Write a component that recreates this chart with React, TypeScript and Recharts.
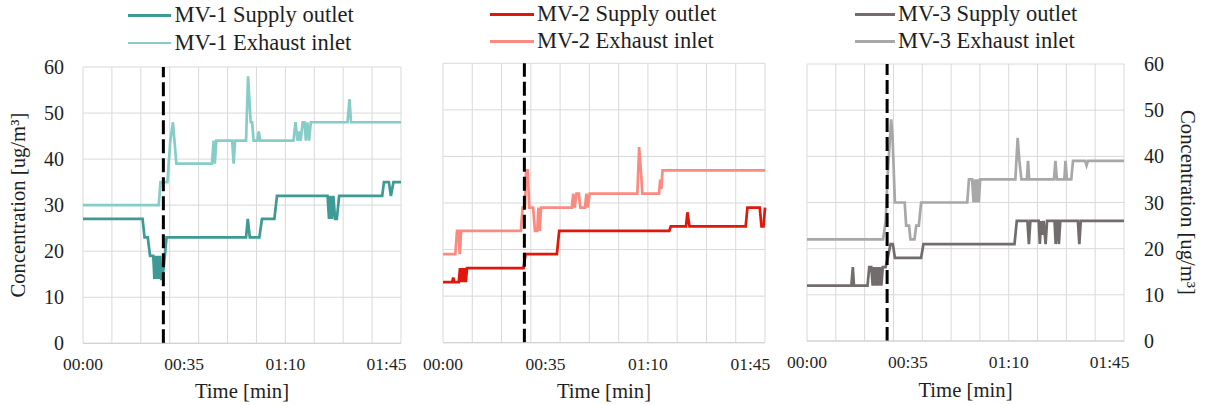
import { LineChart, Line, XAxis, YAxis, CartesianGrid, ReferenceLine } from "recharts";

type Pt = [number, number];

// [minutes since start, concentration ug/m3]
const mv1Supply: Pt[] = [
  [0, 27], [20.6, 27], [21.3, 23], [22.4, 23], [23.2, 19], [24.3, 19], [24.7, 14], [25.1, 19],
  [25.5, 14], [25.9, 19], [26.3, 14], [26.7, 19], [27.1, 14], [27.5, 14], [28.3, 19], [28.9, 23],
  [56.4, 23], [57.0, 27], [57.7, 23], [61.0, 23], [61.9, 27], [66.2, 27], [67.1, 32], [84.6, 32],
  [85.1, 27], [85.6, 32], [86.1, 27], [86.6, 32], [87.2, 27], [87.8, 27], [88.6, 32], [103.5, 32],
  [104.1, 35], [105.8, 35], [106.5, 32], [107.4, 35], [110, 35],
];
const mv1Exhaust: Pt[] = [
  [0, 30], [26.2, 30], [26.8, 35], [29.2, 35], [30.2, 44], [31.1, 48], [32.3, 39], [44.6, 39],
  [45.2, 44], [45.6, 39], [46.1, 44], [51.6, 44], [52.1, 39], [52.6, 44], [56.4, 44], [57.1, 58],
  [58.0, 48], [58.5, 48], [59.0, 44], [60.3, 44], [60.8, 46], [61.3, 44], [72.8, 44], [73.5, 48],
  [74.2, 44], [74.8, 46], [75.3, 44], [76.0, 48], [76.6, 48], [77.1, 44], [77.6, 48], [78.2, 44],
  [78.8, 48], [91.5, 48], [92.2, 53], [92.7, 48], [110, 48],
];
const mv2Supply: Pt[] = [
  [0, 13], [3.1, 13], [3.5, 14], [3.9, 13], [5.4, 13], [5.8, 16], [6.2, 13], [6.6, 16], [7.0, 13],
  [7.4, 16], [7.8, 13], [8.2, 16], [27.5, 16], [28.2, 19], [38.9, 19], [39.7, 24], [77.3, 24],
  [77.8, 25], [83.0, 25], [83.5, 28], [84.2, 25], [103.4, 25], [104.0, 29], [108.2, 29],
  [108.8, 25], [109.5, 25], [110, 29],
];
const mv2Exhaust: Pt[] = [
  [0, 19], [4.2, 19], [4.8, 24], [5.3, 24], [5.7, 19], [6.2, 24], [26.6, 24], [27.2, 29], [28.0, 29],
  [28.4, 37], [28.9, 37], [29.5, 29], [30.8, 29], [31.4, 24], [32.2, 24], [32.6, 29], [33.0, 24],
  [33.5, 29], [44.0, 29], [44.5, 32], [45.0, 29], [45.6, 32], [46.4, 32], [46.9, 29], [48.5, 29],
  [49.0, 32], [49.5, 29], [50.1, 32], [66.4, 32], [67.0, 42], [67.6, 37], [68.1, 32], [73.8, 32],
  [74.2, 35], [74.6, 33], [75.0, 37], [110, 37],
];
const mv3Supply: Pt[] = [
  [0, 12], [15.4, 12], [15.9, 16], [16.3, 12], [21.0, 12], [21.6, 16], [22.3, 16], [22.8, 12],
  [23.3, 16], [23.8, 12], [24.3, 16], [24.8, 12], [25.3, 16], [25.8, 12], [26.3, 16], [27.3, 16],
  [28.0, 18], [29.0, 21], [29.8, 21], [30.5, 18], [39.6, 18], [40.4, 21], [72.0, 21], [72.8, 26],
  [76.5, 26], [77.0, 21], [77.5, 26], [80.4, 26], [80.8, 21], [81.2, 26], [81.7, 23], [82.1, 26],
  [82.8, 21], [83.3, 26], [85.9, 26], [86.3, 21], [86.8, 26], [87.0, 26], [87.4, 21], [87.9, 26],
  [94.0, 26], [94.5, 21], [95.0, 26], [110, 26],
];
const mv3Exhaust: Pt[] = [
  [0, 22], [26.4, 22], [27.3, 26], [28.0, 36], [29.2, 48], [29.7, 44], [30.5, 30], [33.9, 30],
  [34.4, 25], [35.4, 25], [35.9, 22], [37.3, 22], [37.9, 25], [38.8, 25], [39.6, 30], [55.6, 30],
  [56.2, 35], [57.3, 35], [57.8, 30], [58.3, 35], [58.7, 30], [59.2, 35], [59.6, 30], [60.1, 35],
  [72.3, 35], [73.1, 44], [73.7, 39], [74.4, 35], [76.3, 35], [76.7, 39], [77.1, 35], [85.7, 35],
  [86.2, 39], [86.7, 35], [89.3, 35], [89.7, 39], [90.2, 35], [91.7, 35], [92.3, 39], [96.5, 39],
  [97.0, 38], [97.5, 39], [110, 39],
];

const gridTimes = [0, 10, 20, 30, 40, 50, 60, 70, 80, 90, 100, 110];
const timeTicks = [0, 35, 70, 105];
const concTicks = [0, 10, 20, 30, 40, 50, 60];
const switchTime = 27.8;

const SERIF = "'Liberation Serif'";
const INK = "#1e1e1e";
const GRID = "#d9d9d9";

const pad2 = (n: number) => String(n).padStart(2, "0");
const fmtTime = (m: number) => `${pad2(Math.floor(m / 60))}:${pad2(m % 60)}`;
const toRows = (pts: Pt[]) => pts.map(([t, v]) => ({ t, v }));

const yTitle = "Concentration [ug/m\u00b3]";

interface PanelProps {
  left: number;
  width: number;
  top: number;
  bottom: number;
  margin: { left: number; right: number };
  yAxis: "left" | "right" | "none";
  supply: Pt[];
  exhaust: Pt[];
  supplyColor: string;
  exhaustColor: string;
  titleOffset: number;
}

function Panel(p: PanelProps) {
  return (
    <div style={{ position: "absolute", left: p.left, top: 0 }}>
      <LineChart
        width={p.width}
        height={405}
        margin={{ top: p.top, right: p.margin.right, left: p.margin.left, bottom: 0 }}
      >
        <CartesianGrid stroke={GRID} strokeWidth={1} verticalValues={gridTimes} />
        <XAxis
          type="number"
          dataKey="t"
          domain={[0, 110]}
          ticks={timeTicks}
          interval={0}
          tickFormatter={fmtTime}
          height={405 - p.bottom}
          tickLine={false}
          tickSize={0}
          tickMargin={14.6}
          axisLine={{ stroke: "#cfcfcf" }}
          tick={{ fontSize: 17.5, fill: INK, fontFamily: SERIF }}
          label={{
            value: "Time [min]",
            position: "insideBottom",
            offset: p.titleOffset,
            fontSize: 20.7,
            fill: INK,
            fontFamily: SERIF,
          }}
        />
        {p.yAxis === "none" ? (
          <YAxis hide domain={[0, 60]} ticks={concTicks} />
        ) : (
          <YAxis
            orientation={p.yAxis}
            domain={[0, 60]}
            ticks={concTicks}
            interval={0}
            width={p.yAxis === "left" ? 83 : 81}
            axisLine={false}
            tickLine={false}
            tickSize={0}
            tickMargin={p.yAxis === "left" ? 19 : 20}
            tick={{ fontSize: 20, fill: INK, fontFamily: SERIF }}
            label={{
              value: yTitle,
              angle: p.yAxis === "left" ? -90 : 90,
              position: p.yAxis === "left" ? "insideLeft" : "insideRight",
              offset: p.yAxis === "left" ? 17.7 : 16.7,
              fontSize: 20.7,
              fill: INK,
              fontFamily: SERIF,
              style: { textAnchor: "middle" },
            }}
          />
        )}
        <Line
          data={toRows(p.exhaust)}
          dataKey="v"
          type="linear"
          stroke={p.exhaustColor}
          strokeWidth={2.7}
          dot={false}
          isAnimationActive={false}
        />
        <Line
          data={toRows(p.supply)}
          dataKey="v"
          type="linear"
          stroke={p.supplyColor}
          strokeWidth={2.7}
          dot={false}
          isAnimationActive={false}
        />
        <ReferenceLine x={switchTime} stroke="#000" strokeWidth={3} strokeDasharray="14 5" />
      </LineChart>
    </div>
  );
}

interface LegendProps {
  x1: number;
  x2: number;
  textX: number;
  rows: { y: number; label: string; color: string }[];
}

// two-row legend: a short stroke swatch followed by the series name
function SeriesLegend({ x1, x2, textX, rows }: LegendProps) {
  return (
    <>
      {rows.map((r) => (
        <div key={r.label}>
          <div
            style={{
              position: "absolute",
              left: x1,
              top: r.y - 1.4,
              width: x2 - x1,
              height: 2.8,
              background: r.color,
            }}
          />
          <div
            style={{
              position: "absolute",
              left: textX,
              top: r.y - 13.5,
              fontFamily: SERIF,
              fontSize: 22.5,
              lineHeight: "26px",
              color: INK,
              whiteSpace: "nowrap",
            }}
          >
            {r.label}
          </div>
        </div>
      ))}
    </>
  );
}

const C1 = { supply: "#3d9a94", exhaust: "#86cdc8" };
const C2 = { supply: "#e2170c", exhaust: "#fb8b80" };
const C3 = { supply: "#726c6c", exhaust: "#a8a8a8" };

export default function App() {
  return (
    <div
      style={{
        position: "absolute",
        left: 0,
        top: 0,
        width: 1205,
        height: 405,
        background: "#fff",
      }}
    >
      <Panel
        left={0}
        width={410}
        top={67}
        bottom={343.3}
        margin={{ left: 0, right: 9 }}
        yAxis="left"
        supply={mv1Supply}
        exhaust={mv1Exhaust}
        supplyColor={C1.supply}
        exhaustColor={C1.exhaust}
        titleOffset={7}
      />
      <Panel
        left={400}
        width={375}
        top={63.3}
        bottom={342.7}
        margin={{ left: 43, right: 10 }}
        yAxis="none"
        supply={mv2Supply}
        exhaust={mv2Exhaust}
        supplyColor={C2.supply}
        exhaustColor={C2.exhaust}
        titleOffset={7}
      />
      <Panel
        left={770}
        width={435}
        top={64}
        bottom={341}
        margin={{ left: 37, right: 0 }}
        yAxis="right"
        supply={mv3Supply}
        exhaust={mv3Exhaust}
        supplyColor={C3.supply}
        exhaustColor={C3.exhaust}
        titleOffset={8.3}
      />
      <SeriesLegend
        x1={127.5}
        x2={170.5}
        textX={174.5}
        rows={[
          { y: 15.7, label: "MV-1 Supply outlet", color: C1.supply },
          { y: 43, label: "MV-1 Exhaust inlet", color: C1.exhaust },
        ]}
      />
      <SeriesLegend
        x1={490.3}
        x2={533.7}
        textX={537}
        rows={[
          { y: 14.3, label: "MV-2 Supply outlet", color: C2.supply },
          { y: 41.7, label: "MV-2 Exhaust inlet", color: C2.exhaust },
        ]}
      />
      <SeriesLegend
        x1={855}
        x2={895}
        textX={898}
        rows={[
          { y: 14.7, label: "MV-3 Supply outlet", color: C3.supply },
          { y: 41.7, label: "MV-3 Exhaust inlet", color: C3.exhaust },
        ]}
      />
    </div>
  );
}
